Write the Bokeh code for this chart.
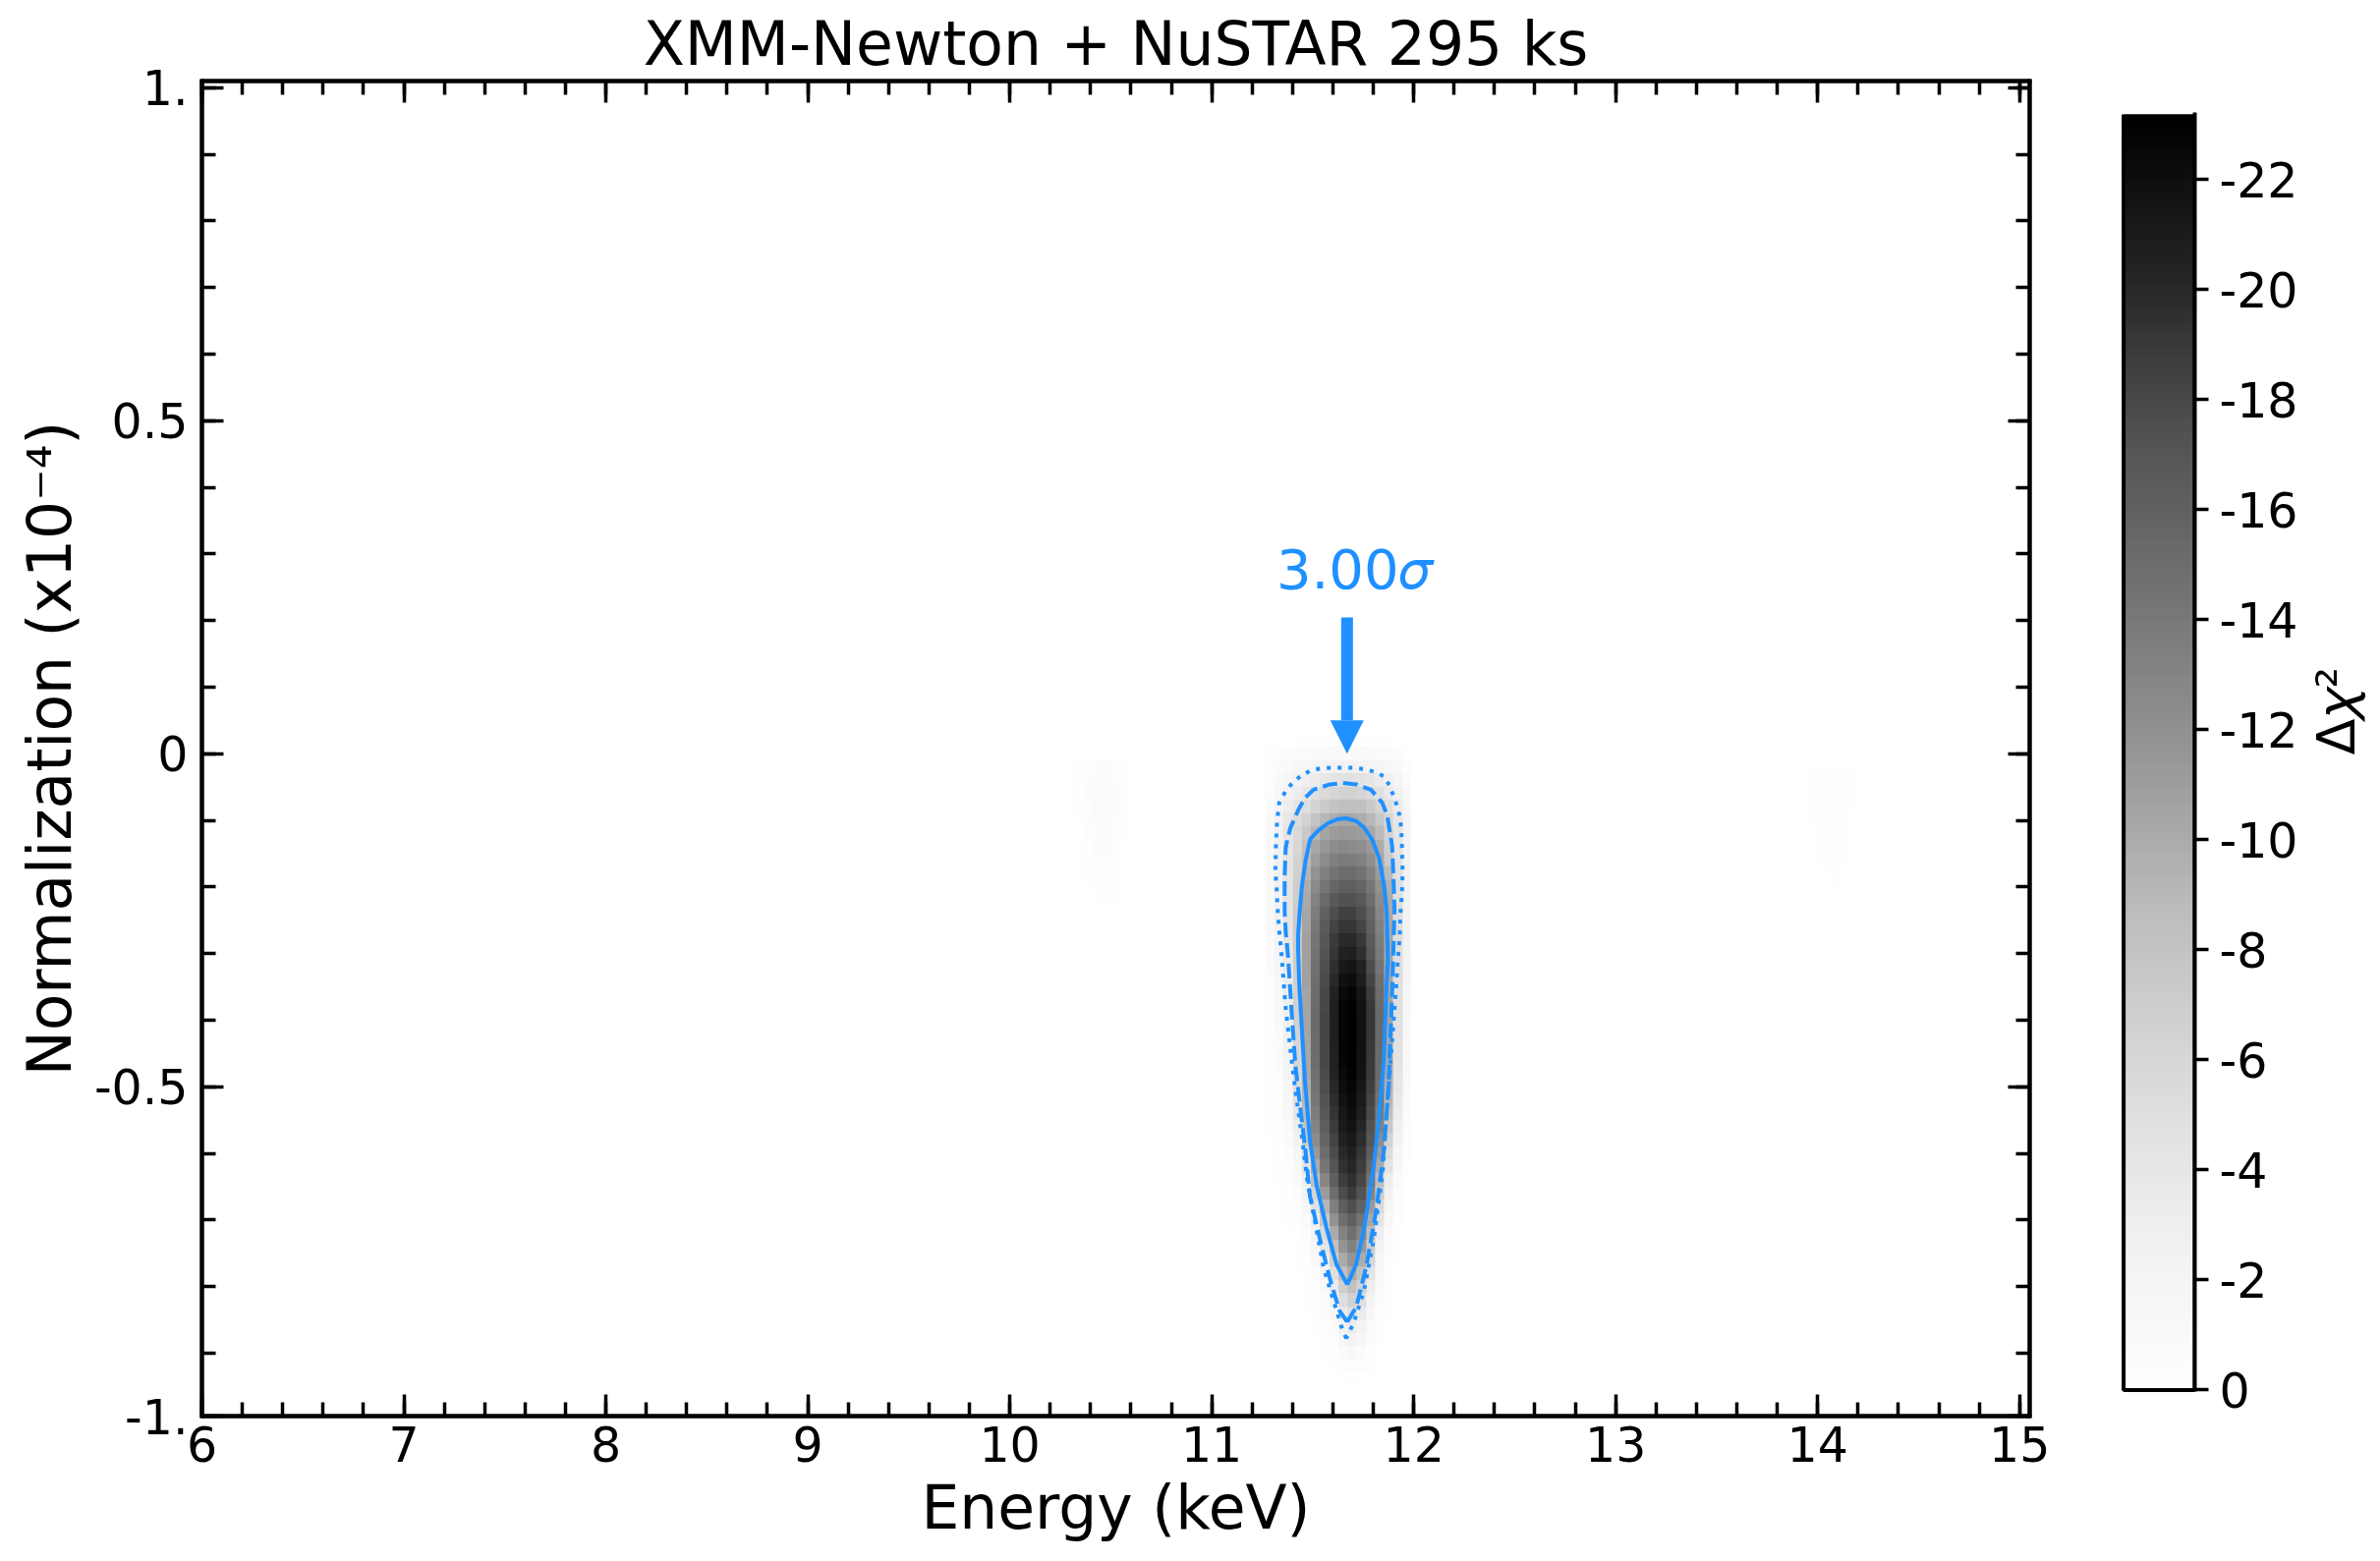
import numpy as np
from bokeh.embed import file_html
from bokeh.layouts import row
from bokeh.models import Arrow, FixedTicker, Label, LinearAxis, LinearColorMapper, NormalHead, Range1d
from bokeh.palettes import Greys9
from bokeh.plotting import figure
from bokeh.resources import INLINE

BLUE = "#1E90FF"
FONT = "DejaVu Sans"

# delta chi2, columns are 0.045 keV wide, rows 0.02 (top row first)
main_first_col = 117
main_top = 0.03
map_main = [
    [0, 0, -.05, -.1, -.1, -.1, -.1, -.1, -.1, -.1, -.1, -.1, -.1, -.1, -.05, 0],
    [-.2, -.4, -.6, -.7, -.8, -.9, -.9, -1, -1, -1, -1, -.9, -.8, -.7, -.5, -.2],
    [-.3, -.8, -1.1, -1.4, -1.6, -1.9, -2.1, -2.3, -2.4, -2.4, -2.3, -2.1, -1.9, -1.5, -1, -.4],
    [-.5, -1.1, -1.8, -2.4, -2.9, -3.4, -3.9, -4.3, -4.6, -4.6, -4.5, -4.1, -3.5, -2.8, -1.9, -.8],
    [-.6, -1.5, -2.4, -3.3, -3.9, -4.9, -5.6, -6.2, -6.5, -6.5, -6.3, -5.7, -4.9, -3.8, -2.6, -1.2],
    [-.8, -2, -3.2, -4.3, -5.1, -6.3, -7.3, -8, -8.4, -8.4, -8.2, -7.3, -6.3, -5, -3.4, -1.6],
    [-1, -2.4, -4, -5.4, -6.5, -7.9, -9.1, -9.9, -10.2, -10.2, -9.9, -9, -7.7, -6, -4.1, -2],
    [-1, -2.5, -4.2, -5.8, -7.4, -9.2, -10.5, -11.1, -11.4, -11.3, -11, -10.2, -8.8, -6.5, -4.3, -2.1],
    [-1.1, -2.6, -4.2, -6, -8.2, -10.3, -11.5, -12.3, -12.6, -12.5, -12.2, -11.3, -9.8, -6.9, -4.4, -2.2],
    [-1.1, -2.6, -4.4, -6.4, -8.7, -10.9, -12.4, -13.4, -13.8, -13.7, -13.3, -12.2, -10.3, -7.3, -4.6, -2.3],
    [-1.1, -2.6, -4.4, -6.7, -9.3, -11.8, -13.4, -14.5, -15.1, -15, -14.5, -13.2, -11.2, -8.8, -4.8, -2.3],
    [-1.1, -2.6, -4.4, -6.9, -9.8, -12.5, -14.3, -15.5, -16.2, -16.2, -15.6, -14.1, -11.9, -9.6, -5, -2.4],
    [-1.1, -2.5, -4.4, -7, -10.1, -13.2, -15.3, -16.7, -17.4, -17.4, -16.7, -15, -12.4, -9.9, -5, -2.4],
    [-1, -2.4, -4.3, -7.1, -10.4, -13.7, -16, -17.6, -18.4, -18.4, -17.6, -15.6, -12.8, -10, -5.1, -2.3],
    [-1, -2.3, -4.2, -7.1, -10.6, -14, -16.5, -18.3, -19.2, -19.2, -18.2, -16.1, -13.2, -10.1, -5.1, -2.2],
    [-.9, -2.1, -4, -7.1, -10.7, -14.3, -17, -18.9, -19.9, -20, -19, -16.6, -13.6, -10.2, -5.1, -2.2],
    [-.8, -2, -3.8, -7, -10.7, -14.5, -17.2, -19.2, -20.5, -20.7, -19.6, -17, -13.9, -10.3, -5, -2.1],
    [-.7, -1.8, -3.6, -6.9, -10.7, -14.7, -17.5, -19.6, -21.2, -21.5, -20.4, -17.6, -14.3, -10.4, -5, -2],
    [-.6, -1.6, -3.4, -6.8, -10.7, -14.9, -17.8, -20, -21.8, -22.2, -20.9, -18.2, -14.7, -10.5, -5, -1.9],
    [-.5, -1.4, -3.2, -6.7, -10.6, -15.1, -18, -20.4, -22.3, -22.8, -21.4, -18.7, -15, -10.5, -4.9, -1.8],
    [-.5, -1.2, -3, -6.6, -10.6, -15.2, -18.1, -20.6, -22.6, -23.1, -21.7, -19, -15.2, -10.6, -4.8, -1.7],
    [-.4, -1, -2.8, -6.5, -10.5, -15.3, -18.2, -20.7, -22.7, -23.2, -21.8, -19.1, -15.3, -10.5, -4.8, -1.5],
    [-.3, -.9, -2.6, -6.3, -10.4, -15.2, -18.2, -20.7, -22.7, -23.2, -21.8, -19.1, -15.3, -10.5, -4.7, -1.4],
    [-.3, -.8, -2.4, -6.1, -10.3, -15.1, -18.1, -20.6, -22.7, -23.2, -21.8, -19, -15.3, -10.4, -4.6, -1.3],
    [-.2, -.7, -2.2, -5.9, -10.2, -15, -18, -20.5, -22.6, -23.1, -21.7, -18.9, -15.2, -10.2, -4.5, -1.2],
    [-.2, -.6, -2, -5.6, -10, -14.8, -17.8, -20.4, -22.4, -23, -21.6, -18.8, -15.1, -10, -4.3, -1.1],
    [-.2, -.5, -1.8, -5.2, -9.7, -14.5, -17.5, -20.1, -22.1, -22.7, -21.3, -18.5, -14.8, -9.7, -4, -1],
    [-.1, -.4, -1.5, -4.7, -9.3, -14.2, -17.2, -19.7, -21.7, -22.4, -21, -18.2, -14.4, -9.2, -3.7, -.9],
    [-.1, -.3, -1.2, -4, -8.8, -13.7, -16.8, -19.3, -21.4, -22.1, -20.7, -17.8, -13.9, -8.5, -3.2, -.7],
    [-.1, -.3, -.9, -3.2, -8, -13, -16.3, -18.8, -21, -21.6, -20.2, -17.3, -13.2, -7.6, -2.7, -.5],
    [0, -.2, -.7, -2.4, -7, -12.4, -15.7, -18.3, -20.5, -21.1, -19.7, -16.8, -12.2, -6.5, -2.2, -.4],
    [0, -.1, -.5, -1.8, -5.6, -11.4, -15, -17.7, -20, -20.7, -19.2, -16.2, -11.2, -5.4, -1.7, -.3],
    [0, -.1, -.4, -1.3, -4.2, -10, -14.2, -17.2, -19.5, -20.2, -18.7, -15.4, -10, -4.4, -1.3, -.2],
    [0, -.1, -.3, -.9, -3, -8.2, -12.8, -16.2, -18.7, -19.6, -18.1, -14.4, -8.7, -3.2, -.9, -.1],
    [0, 0, -.2, -.6, -2, -6.2, -11.2, -15, -17.7, -18.8, -17.2, -13, -7.2, -2.4, -.6, -.1],
    [0, 0, -.1, -.4, -1.4, -4.6, -9.3, -13.5, -16.3, -17.5, -15.9, -11.2, -5.6, -1.7, -.4, 0],
    [0, 0, -.1, -.3, -.9, -3.2, -7.6, -11.9, -14.8, -16.1, -14.5, -10.1, -4.5, -1.2, -.3, 0],
    [0, 0, 0, -.2, -.6, -2.1, -5.7, -10, -13.2, -14.8, -13, -8.7, -3.3, -.8, -.2, 0],
    [0, 0, 0, -.1, -.4, -1.4, -4.2, -8.2, -11.7, -13.2, -11.5, -7.2, -2.4, -.6, -.1, 0],
    [0, 0, 0, -.1, -.3, -1, -3, -6.7, -10.1, -11.7, -9.9, -5.9, -1.8, -.4, -.1, 0],
    [0, 0, 0, 0, -.2, -.6, -2, -5, -8.4, -10, -8.2, -4.4, -1.3, -.3, 0, 0],
    [0, 0, 0, 0, -.1, -.4, -1.3, -3.6, -6.8, -8.3, -6.6, -3.2, -.9, -.2, 0, 0],
    [0, 0, 0, 0, -.1, -.2, -.8, -2.4, -5.2, -6.6, -5, -2.2, -.6, -.1, 0, 0],
    [0, 0, 0, 0, 0, -.1, -.5, -1.5, -3.7, -5, -3.5, -1.4, -.4, -.1, 0, 0],
    [0, 0, 0, 0, 0, -.1, -.3, -.9, -2.4, -3.5, -2.3, -.8, -.2, 0, 0, 0],
    [0, 0, 0, 0, 0, 0, -.2, -.5, -1.5, -2.2, -1.4, -.5, -.1, 0, 0, 0],
    [0, 0, 0, 0, 0, 0, -.1, -.2, -.8, -1.2, -.7, -.2, 0, 0, 0, 0],
    [0, 0, 0, 0, 0, 0, 0, -.1, -.3, -.5, -.3, -.1, 0, 0, 0, 0],
    [0, 0, 0, 0, 0, 0, 0, 0, 0, -.1, 0, 0, 0, 0, 0, 0],
]

# the two faint spots either side, rows 0.03
left_first_col = 96
left_top = -0.01
map_left = [
    [-.2, -.4, -.5, -.5, -.4, -.2],
    [-.2, -.5, -.7, -.7, -.5, -.2],
    [-.1, -.4, -.7, -.7, -.5, -.2],
    [0, -.3, -.6, -.7, -.4, -.1],
    [0, -.2, -.5, -.6, -.3, 0],
    [0, -.1, -.4, -.4, -.2, 0],
    [0, 0, -.2, -.2, -.1, 0],
]
right_first_col = 177
right_top = -0.02
map_right = [
    [-.1, -.2, -.3, -.2, -.1],
    [-.1, -.3, -.3, -.2, -.1],
    [-.1, -.3, -.3, -.2, 0],
    [0, -.2, -.3, -.1, 0],
    [0, -.1, -.2, -.1, 0],
    [0, 0, -.1, 0, 0],
]

col_width = 0.045
e_origin = 6.0

# contours
solid_e = [11.671, 11.618, 11.569, 11.520, 11.486, 11.462, 11.447, 11.433, 11.428, 11.428, 11.436, 11.447, 11.464,
           11.480, 11.488, 11.529, 11.577, 11.626, 11.666, 11.715, 11.755, 11.796, 11.829, 11.853, 11.866, 11.872,
           11.866, 11.851, 11.827, 11.798, 11.754, 11.715, 11.671]
solid_n = [-.797, -.767, -.713, -.649, -.580, -.492, -.418, -.344, -.295, -.270, -.236, -.197, -.162,
           -.138, -.128, -.115, -.104, -.098, -.097, -.101, -.111, -.130, -.157, -.197, -.236, -.310,
           -.344, -.467, -.551, -.629, -.713, -.767, -.797]

dashed_e = [11.671, 11.632, 11.584, 11.535, 11.486, 11.462, 11.438, 11.414, 11.399, 11.378, 11.366, 11.361, 11.361,
            11.366, 11.375, 11.390, 11.431, 11.463, 11.504, 11.586, 11.650, 11.715, 11.788, 11.845, 11.869, 11.893,
            11.900, 11.905, 11.895, 11.875, 11.851, 11.813, 11.764, 11.715, 11.671]
dashed_n = [-.853, -.836, -.787, -.728, -.664, -.590, -.531, -.467, -.403, -.305, -.266, -.236, -.186,
            -.142, -.128, -.111, -.083, -.066, -.054, -.046, -.044, -.046, -.054, -.074, -.093, -.138,
            -.186, -.236, -.344, -.502, -.599, -.688, -.772, -.831, -.853]

dotted_e = [11.666, 11.642, 11.603, 11.554, 11.506, 11.472, 11.447, 11.414, 11.389, 11.365, 11.345, 11.334, 11.326,
            11.321, 11.315, 11.318, 11.323, 11.334, 11.366, 11.399, 11.439, 11.485, 11.537, 11.593, 11.647, 11.699,
            11.751, 11.805, 11.853, 11.880, 11.901, 11.918, 11.931, 11.938, 11.942, 11.945, 11.942, 11.934, 11.931,
            11.923, 11.910, 11.875, 11.846, 11.803, 11.754, 11.705, 11.666]
dotted_n = [-.878, -.860, -.821, -.772, -.694, -.639, -.576, -.506, -.443, -.378, -.300, -.266, -.231,
            -.201, -.177, -.138, -.103, -.074, -.056, -.044, -.034, -.026, -.022, -.021, -.021, -.021,
            -.023, -.027, -.034, -.048, -.064, -.079, -.094, -.111, -.142, -.177, -.211, -.241, -.273,
            -.304, -.363, -.502, -.629, -.728, -.806, -.853, -.878]

x_major = [6, 7, 8, 9, 10, 11, 12, 13, 14, 15]
x_minor = [round(6 + 0.2 * i, 1) for i in range(46)]
y_start = -0.9945
# -1 is just under the bottom edge, its label goes on the edge itself
y_major = [1.0, 0.5, 0.0, -0.5, y_start]
y_labels = ["1.", "0.5", "0", "-0.5", "-1."]
y_minor = [round(-0.9 + 0.1 * i, 1) for i in range(20)]
cbar_ticks = [0, 2, 4, 6, 8, 10, 12, 14, 16, 18, 20, 22]

peak = 23.2

# matplotlib style Greys ramp, black at the low end
anchors = [int(c[1:3], 16) for c in Greys9]
ramp = np.interp(np.linspace(0, 8, 256), np.arange(9), anchors).astype(int)
palette = ["#%02x%02x%02x" % (g, g, g) for g in ramp]
mapper = LinearColorMapper(palette=palette, low=-peak, high=0)

p = figure(frame_width=1860, frame_height=1359, x_range=Range1d(6, 15.05), y_range=Range1d(y_start, 1.0099),
           output_backend="svg", toolbar_location=None, min_border_left=205, min_border_top=82,
           min_border_right=40, min_border_bottom=130, title="XMM-Newton + NuSTAR 295 ks")
p.frame_align = False
p.title.text_font = FONT
p.title.text_font_size = "61.5px"
p.title.text_font_style = "normal"
p.title.text_color = "black"
p.title.align = "center"
p.title.standoff = 3
p.xgrid.grid_line_color = None
p.ygrid.grid_line_color = None
p.outline_line_color = "black"
p.outline_line_width = 4


def draw_map(table, first_col, top, row_height):
    arr = np.array(table, dtype=float)[::-1]
    p.image(image=[arr], x=e_origin + first_col * col_width, y=top - arr.shape[0] * row_height,
            dw=arr.shape[1] * col_width, dh=arr.shape[0] * row_height, color_mapper=mapper)


draw_map(map_main, main_first_col, main_top, 0.02)
draw_map(map_left, left_first_col, left_top, 0.03)
draw_map(map_right, right_first_col, right_top, 0.03)

p.line(solid_e, solid_n, line_color=BLUE, line_width=4)
p.line(dashed_e, dashed_n, line_color=BLUE, line_width=4, line_dash="15 6")
p.line(dotted_e, dotted_n, line_color=BLUE, line_width=4, line_dash="4 7")

p.add_layout(Arrow(end=NormalHead(size=34, fill_color=BLUE, line_color=BLUE, line_width=0),
                   x_start=11.67, y_start=0.2046, x_end=11.67, y_end=0.0, line_color=BLUE, line_width=12))
p.add_layout(Label(x=11.32, y=0.277, text="3.00𝜎", text_color=BLUE, text_font=FONT, text_font_size="56px",
                   text_align="left", text_baseline="alphabetic"))

x_ticker = FixedTicker(ticks=x_major, minor_ticks=x_minor)
y_ticker = FixedTicker(ticks=y_major, minor_ticks=y_minor)


def style_axis(ax):
    ax.axis_line_color = "black"
    ax.axis_line_width = 4
    ax.axis_line_cap = "square"
    ax.major_tick_line_color = "black"
    ax.minor_tick_line_color = "black"
    ax.major_tick_line_width = 3.5
    ax.minor_tick_line_width = 3.5
    ax.major_tick_in = 22
    ax.major_tick_out = 0
    ax.minor_tick_in = 14
    ax.minor_tick_out = 0
    ax.major_label_text_font = FONT
    ax.major_label_text_font_size = "49px"
    ax.major_label_text_color = "black"
    ax.axis_label_text_font = FONT
    ax.axis_label_text_font_size = "61.5px"
    ax.axis_label_text_font_style = "normal"
    ax.axis_label_text_color = "black"


xax = p.xaxis[0]
xax.ticker = x_ticker
xax.axis_label = "Energy (keV)"
xax.major_label_standoff = 10
xax.axis_label_standoff = 8
style_axis(xax)

yax = p.yaxis[0]
yax.ticker = y_ticker
yax.axis_label = "Normalization (x10⁻⁴)"
yax.major_label_overrides = dict(zip(y_major, y_labels))
yax.major_label_standoff = 14
yax.axis_label_standoff = 6
style_axis(yax)

top_ax = LinearAxis(ticker=x_ticker, major_label_overrides={t: "" for t in x_major}, major_label_standoff=0)
right_ax = LinearAxis(ticker=y_ticker, major_label_overrides={t: "" for t in y_major}, major_label_standoff=0)
style_axis(top_ax)
style_axis(right_ax)
p.add_layout(top_ax, "above")
p.add_layout(right_ax, "right")

# colour bar, its own small figure so the scale reads 0 at the bottom
cb = figure(frame_width=76, frame_height=1304, x_range=Range1d(-0.05, 1), y_range=Range1d(-0.1, 23.186),
            x_axis_type=None, y_axis_location="right", output_backend="svg", toolbar_location=None,
            min_border_left=52, min_border_top=116, min_border_right=170, min_border_bottom=50)
cb.frame_align = False
cb.xgrid.grid_line_color = None
cb.ygrid.grid_line_color = None
cb.outline_line_color = None
gradient = -np.linspace(0, peak, 512).reshape(-1, 1)
cb.image(image=[gradient], x=0, y=0, dw=1, dh=peak, color_mapper=mapper)
cb.quad(left=0, right=1, bottom=0, top=peak, fill_color=None, line_color="black", line_width=4)

cax = cb.yaxis[0]
style_axis(cax)
cax.bounds = (0, peak)
cax.ticker = FixedTicker(ticks=cbar_ticks)
cax.major_label_overrides = {t: ("-%d" % t if t else "0") for t in cbar_ticks}
cax.major_tick_in = 0
cax.major_tick_out = 14
cax.major_label_standoff = 11
cax.axis_label = "Δ𝜒²"
cax.axis_label_text_font_size = "54px"
cax.axis_label_orientation = 1.5708
cax.axis_label_standoff = 36

page = row(p, cb, spacing=0)
open("out.html", "w", encoding="utf-8").write(file_html(page, INLINE))
